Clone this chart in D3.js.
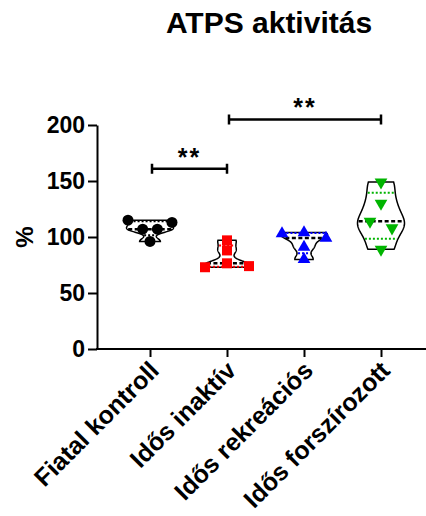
<!DOCTYPE html>
<html>
<head>
<meta charset="utf-8">
<script src="https://cdn.jsdelivr.net/npm/d3@7"></script>
<style>
  body { margin: 0; background: #fff; }
  svg { display: block; }
  text { font-family: Arial, "Liberation Sans", sans-serif; font-weight: bold; }
</style>
</head>
<body>
<svg id="chart" width="426" height="516"></svg>
<script>
// data (ATPS activity, %)
const categories = ['Fiatal kontroll', 'Idős inaktív', 'Idős rekreációs', 'Idős forszírozott'];
const fiatalKontroll = [115, 107, 107, 113, 96];
const idosInaktiv = [97, 88, 73, 76.5, 74];
const idosRekreacios = [103, 104, 99, 91, 80];
const idosForszirozott = [149, 130, 114, 108, 89];
const yTicks = [0, 50, 100, 150, 200];
const comparisons = [
    { from: 0, to: 1, value: 161, label: '**' },
    { from: 1, to: 3, value: 205, label: '**' }
];

const groups = [fiatalKontroll, idosInaktiv, idosRekreacios, idosForszirozott];
const colors = ['#000000', '#ff0000', '#0000ff', '#00b400'];
const symbols = [d3.symbolCircle, d3.symbolSquare, d3.symbolTriangle, d3.symbolTriangle];
const symbolSizes = [95, 100, 70, 70];
const symbolRotate = [0, 0, 0, 180];

const svg = d3.select('#chart');

const x = d3.scalePoint().domain(categories).range([150, 381]);
const y = d3.scaleLinear().domain([0, 200]).range([349, 125]);
const axisLeftX = 97;
const halfWidth = 23.5;

// quartiles the way GraphPad does it: position (n+1)p
const quant = (sorted, p) => {
    const pos = (sorted.length + 1) * p;
    const lo = Math.floor(pos);
    if (lo < 1) return sorted[0];
    if (lo >= sorted.length) return sorted[sorted.length - 1];
    return sorted[lo - 1] + (pos - lo) * (sorted[lo] - sorted[lo - 1]);
};

const kde = (values, h) => v =>
    d3.sum(values, d => Math.exp(-0.5 * ((v - d) / h) ** 2));

// violins
groups.forEach((vals, i) => {
    const cx = x(categories[i]);
    const sorted = vals.slice().sort(d3.ascending);
    const lo = sorted[0], hi = sorted[sorted.length - 1];
    const dens = kde(vals, (hi - lo) / 6);
    const grid = d3.range(0, 81).map(k => lo + (hi - lo) * k / 80);
    const maxD = d3.max(grid, dens);
    const w = v => dens(v) / maxD * halfWidth;

    const g = svg.append('g');

    g.append('path')
        .datum(grid)
        .attr('d', d3.area()
            .y(v => y(v))
            .x0(v => cx - w(v))
            .x1(v => cx + w(v)))
        .attr('fill', '#fff')
        .attr('stroke', '#000')
        .attr('stroke-width', 1.5);

    [0.25, 0.75].forEach(p => {
        const q = quant(sorted, p);
        g.append('line')
            .attr('x1', cx - w(q) + 1).attr('x2', cx + w(q) - 1)
            .attr('y1', y(q)).attr('y2', y(q))
            .attr('stroke', colors[i])
            .attr('stroke-width', 2)
            .attr('stroke-dasharray', '2,2');
    });

    const med = quant(sorted, 0.5);
    g.append('line')
        .attr('x1', cx - w(med) + 1).attr('x2', cx + w(med) - 1)
        .attr('y1', y(med)).attr('y2', y(med))
        .attr('stroke', '#000')
        .attr('stroke-width', 2.5)
        .attr('stroke-dasharray', '4,2.5');
});

// scatter points: values close together share a row and are spread sideways
groups.forEach((vals, i) => {
    const cx = x(categories[i]);
    const order = d3.range(vals.length).sort((a, b) => vals[b] - vals[a]);
    const rows = [];
    order.forEach(k => {
        const last = rows[rows.length - 1];
        if (last && vals[last[last.length - 1]] - vals[k] < 7) last.push(k);
        else rows.push([k]);
    });
    const pts = [];
    rows.forEach(row => {
        row.sort((a, b) => a - b);
        const n = row.length;
        const step = n > 1 ? Math.min(22, 44 / (n - 1)) : 0;
        row.forEach((k, j) => pts.push({ v: vals[k], dx: (j - (n - 1) / 2) * step }));
    });

    svg.append('g')
        .selectAll('path')
        .data(pts)
        .join('path')
        .attr('transform', d => `translate(${cx + d.dx},${y(d.v)}) rotate(${symbolRotate[i]})`)
        .attr('d', d3.symbol().type(symbols[i]).size(symbolSizes[i]))
        .attr('fill', colors[i]);
});

// axes
const yAxis = svg.append('g')
    .attr('transform', `translate(${axisLeftX},0)`)
    .call(d3.axisLeft(y).tickValues(yTicks).tickSize(9).tickSizeOuter(0).tickPadding(3));
yAxis.select('.domain').attr('stroke-width', 2);
yAxis.selectAll('.tick line').attr('stroke-width', 2);
yAxis.selectAll('.tick text')
    .attr('font-size', 23)
    .attr('font-family', 'Arial, "Liberation Sans", sans-serif')
    .attr('font-weight', 'bold')
    .attr('fill', '#000');

const xAxis = svg.append('g')
    .attr('transform', `translate(0,${y(0)})`)
    .call(d3.axisBottom(x).tickSize(8).tickSizeOuter(0));
xAxis.select('.domain')
    .attr('d', `M${axisLeftX - 1},0H426`)
    .attr('stroke-width', 2);
xAxis.selectAll('.tick line').attr('stroke-width', 2);
xAxis.selectAll('.tick text')
    .attr('font-size', 25)
    .attr('font-family', 'Arial, "Liberation Sans", sans-serif')
    .attr('font-weight', 'bold')
    .attr('fill', '#000')
    .attr('text-anchor', 'end')
    .attr('x', 0).attr('y', 0).attr('dy', 0)
    .attr('transform', 'translate(10,23) rotate(-45)');

// y label
svg.append('text')
    .attr('transform', `translate(33,${y(100)}) rotate(-90)`)
    .attr('text-anchor', 'middle')
    .attr('font-size', 24)
    .text('%');

// title
svg.append('text')
    .attr('x', 269)
    .attr('y', 33)
    .attr('text-anchor', 'middle')
    .attr('font-size', 30)
    .text('ATPS aktivitás');

// significance brackets
const br = svg.append('g');
comparisons.forEach(c => {
    const x1 = x(categories[c.from]) + 2, x2 = x(categories[c.to]);
    const yy = y(c.value);
    br.append('path')
        .attr('d', `M${x1},${yy - 5}V${yy + 5}M${x1},${yy}H${x2}M${x2},${yy - 5}V${yy + 5}`)
        .attr('fill', 'none')
        .attr('stroke', '#000')
        .attr('stroke-width', 2.5);
    br.append('text')
        .attr('x', (x1 + x2) / 2)
        .attr('y', yy - 3)
        .attr('text-anchor', 'middle')
        .attr('font-size', 25)
        .attr('letter-spacing', 2)
        .text(c.label);
});
</script>
</body>
</html>
